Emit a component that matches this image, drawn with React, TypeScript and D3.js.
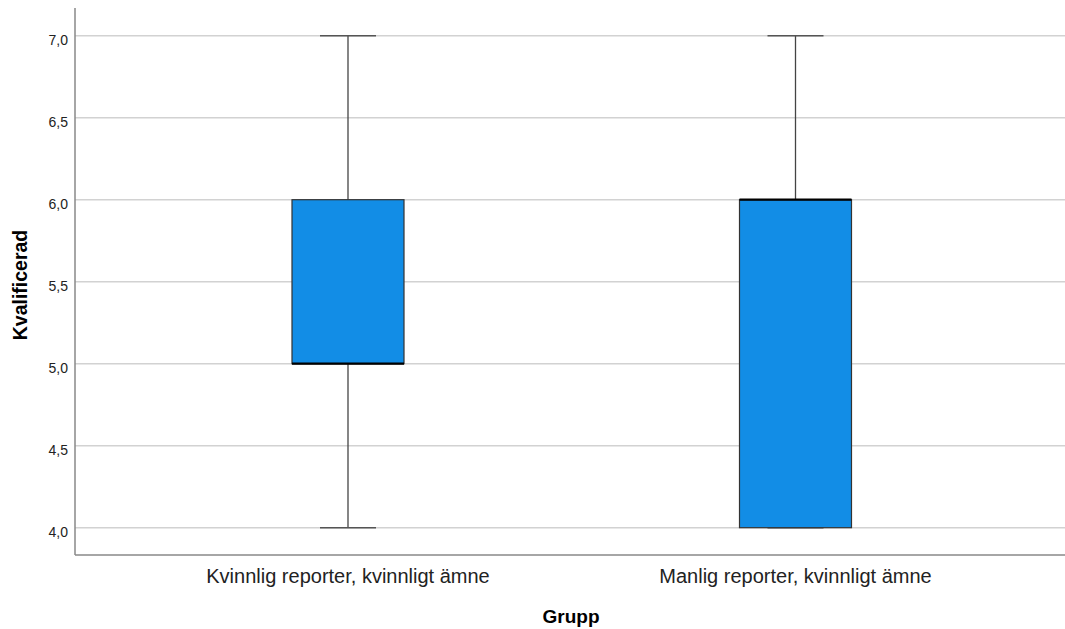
import React from "react";
import * as d3 from "d3";

const categories = ["Kvinnlig reporter, kvinnligt ämne", "Manlig reporter, kvinnligt ämne"];
const whiskerLow = [4.0, 4.0];
const q1 = [5.0, 4.0];
const median = [5.0, 6.0];
const q3 = [6.0, 6.0];
const whiskerHigh = [7.0, 7.0];
const yTicks = [4.0, 4.5, 5.0, 5.5, 6.0, 6.5, 7.0];
const yLabel = "Kvalificerad";
const xLabel = "Grupp";

const W = 1065;
const H = 629;
const plotLeft = 75;
const plotRight = 1065;
const plotTop = 8;
const plotBottom = 555;

export default function App() {
  const y = d3.scaleLinear().domain([4, 7]).range([527.7, 35.7]);
  const x = d3.scaleBand<string>().domain(categories).range([124.25, 1019.25]).padding(0);
  const boxW = 112;
  const capW = 56;
  const fmt = (v: number) => v.toFixed(1).replace(".", ",");
  return (
    <svg width={W} height={H} style={{ position: "absolute", left: 0, top: 0, background: "#fff" }} fontFamily="Liberation Sans, Arial, sans-serif">
      <rect x={0} y={0} width={W} height={H} fill="#fff" />
      {yTicks.map((t) => (
        <g key={t}>
          <line x1={plotLeft} x2={plotRight} y1={y(t)} y2={y(t)} stroke="#d2d2d2" strokeWidth={1.5} />
          <text x={68} y={y(t) + 8.8} textAnchor="end" fontSize={14} fill="#222">{fmt(t)}</text>
        </g>
      ))}
      <line x1={plotLeft} x2={plotLeft} y1={plotTop} y2={plotBottom} stroke="#888" strokeWidth={1.5} />
      <line x1={plotLeft} x2={plotRight} y1={plotBottom} y2={plotBottom} stroke="#888" strokeWidth={1.5} />
      {categories.map((c, i) => {
        const cx = (x(c) as number) + x.bandwidth() / 2;
        return (
          <g key={c}>
            <line x1={cx} x2={cx} y1={y(whiskerHigh[i])} y2={y(q3[i])} stroke="#444" strokeWidth={1.3} />
            <line x1={cx} x2={cx} y1={y(q1[i])} y2={y(whiskerLow[i])} stroke="#444" strokeWidth={1.3} />
            <line x1={cx - capW / 2} x2={cx + capW / 2} y1={y(whiskerHigh[i])} y2={y(whiskerHigh[i])} stroke="#555" strokeWidth={1.5} />
            <line x1={cx - capW / 2} x2={cx + capW / 2} y1={y(whiskerLow[i])} y2={y(whiskerLow[i])} stroke="#555" strokeWidth={1.5} />
            <rect x={cx - boxW / 2} y={y(q3[i])} width={boxW} height={y(q1[i]) - y(q3[i])} fill="#128de6" stroke="#333" strokeWidth={1.2} />
            <line x1={cx - boxW / 2} x2={cx + boxW / 2} y1={y(median[i])} y2={y(median[i])} stroke="#000" strokeWidth={2.2} />
            <text x={cx} y={582.5} textAnchor="middle" fontSize={20} fill="#222">{c}</text>
          </g>
        );
      })}
      <text x={571} y={623} textAnchor="middle" fontSize={19} fontWeight="bold" fill="#000">{xLabel}</text>
      <text transform={`translate(27,285) rotate(-90)`} textAnchor="middle" fontSize={19.5} fontWeight="bold" fill="#000">{yLabel}</text>
    </svg>
  );
}
